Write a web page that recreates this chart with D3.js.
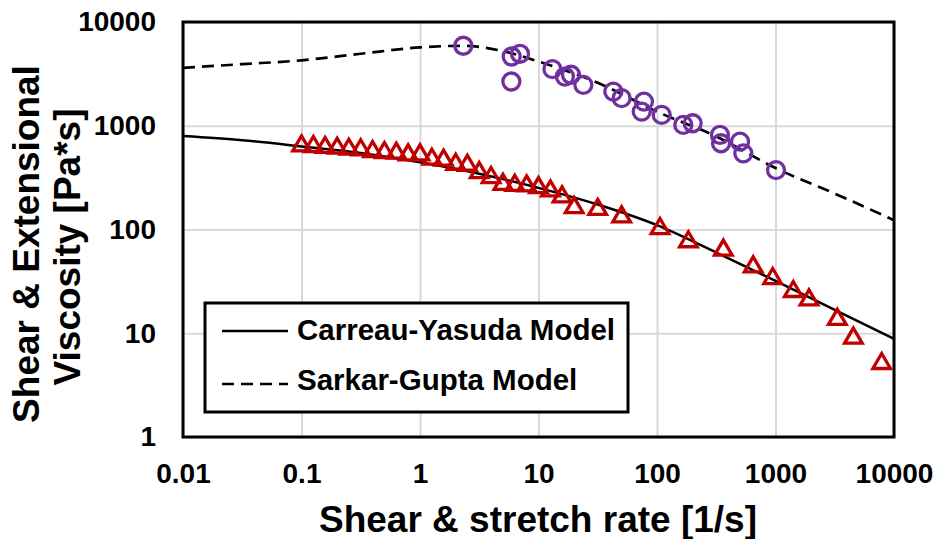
<!DOCTYPE html>
<html lang="en">
<head>
<meta charset="UTF-8">
<script src="https://cdn.jsdelivr.net/npm/d3@7"></script>
<style>
  body { margin: 0; background: #fff; }
  text { font-family: "Liberation Sans", Arial, sans-serif; font-weight: bold; fill: #000; }
</style>
</head>
<body>
<div class="canva"></div>
<script>
// tick values and labels
const xTicks = [0.01, 0.1, 1, 10, 100, 1000, 10000];
const xTickLabels = ["0.01", "0.1", "1", "10", "100", "1000", "10000"];
const yTicks = [1, 10, 100, 1000, 10000];
const yTickLabels = ["1", "10", "100", "1000", "10000"];

// measured shear viscosity (triangles)
const shearRate = [0.1, 0.126, 0.158, 0.2, 0.251, 0.316, 0.398, 0.501, 0.631, 0.794,
  1, 1.26, 1.58, 2, 2.51, 3.16, 3.98, 5.01, 6.31, 7.94,
  10, 12.6, 15.8, 20, 31.6, 50.3, 106, 184, 363, 648,
  947, 1413, 1918, 3324, 4540, 7870];
const shearVisc = [676, 667, 653, 642, 628, 620, 597, 584, 575, 554,
  554, 503, 492, 450, 440, 374, 335, 288, 282, 278,
  268, 249, 218, 172, 165, 140, 108, 80.5, 67, 46.2,
  35.6, 26.7, 22.2, 14.4, 9.5, 5.4];

// measured extensional viscosity (circles)
const stretchRate = [2.32, 5.94, 6.98, 5.9, 13.1, 16.7, 18.8, 23.9, 42.8, 50.3,
  77.6, 74.3, 109.6, 166.7, 200, 340, 347, 502, 535, 1010];
const extVisc = [5900, 4650, 4940, 2670, 3515, 2980, 3100, 2480, 2136, 1845,
  1710, 1370, 1271, 1018, 1057, 815, 678, 702, 542, 374];

// model curves
const cyRate = [0.01, 0.0316, 0.1, 0.316, 1, 3.16, 10, 31.6, 100, 316, 1000, 3162, 10000];
const cyVisc = [795, 725, 632, 545, 445, 345, 252, 174, 110, 60, 32, 16.8, 8.85];
const sgRate = [0.01, 0.0316, 0.1, 0.316, 1, 2.3, 4.73, 10, 31.6, 100, 316, 1000, 3162, 10000];
const sgVisc = [3615, 3925, 4270, 4940, 5690, 5900, 5320, 4160, 2600, 1368, 789, 391, 222, 123];

const width = 937, height = 539;
const svg = d3.select(".canva").append("svg")
  .attr("width", width)
  .attr("height", height);

const plot = { left: 183, right: 894, top: 22, bottom: 437 };

const x = d3.scaleLog().domain([0.01, 10000]).range([plot.left, plot.right]);
const y = d3.scaleLog().domain([1, 10000]).range([plot.bottom, plot.top]);

// gridlines
svg.append("g")
  .attr("transform", `translate(0,${plot.bottom})`)
  .call(d3.axisBottom(x).tickValues(xTicks).tickSize(-(plot.bottom - plot.top)).tickFormat(""))
  .call(g => g.select(".domain").remove())
  .call(g => g.selectAll("line").attr("stroke", "#d9d9d9").attr("stroke-width", 2));

svg.append("g")
  .attr("transform", `translate(${plot.left},0)`)
  .call(d3.axisLeft(y).tickValues(yTicks).tickSize(-(plot.right - plot.left)).tickFormat(""))
  .call(g => g.select(".domain").remove())
  .call(g => g.selectAll("line").attr("stroke", "#d9d9d9").attr("stroke-width", 2));

// tick labels
svg.append("g")
  .attr("transform", `translate(0,${plot.bottom})`)
  .call(d3.axisBottom(x).tickValues(xTicks).tickSize(0).tickPadding(26)
    .tickFormat((d, i) => xTickLabels[i]))
  .call(g => g.select(".domain").remove())
  .call(g => g.selectAll("text").attr("font-size", 28).attr("font-family", null));

svg.append("g")
  .attr("transform", `translate(${plot.left},0)`)
  .call(d3.axisLeft(y).tickValues(yTicks).tickSize(0).tickPadding(27)
    .tickFormat((d, i) => yTickLabels[i]))
  .call(g => g.select(".domain").remove())
  .call(g => g.selectAll("text").attr("font-size", 28).attr("font-family", null));

// plot frame
svg.append("rect")
  .attr("x", plot.left)
  .attr("y", plot.top)
  .attr("width", plot.right - plot.left)
  .attr("height", plot.bottom - plot.top)
  .attr("fill", "none")
  .attr("stroke", "#000")
  .attr("stroke-width", 3);

// model lines
const line = d3.line()
  .x(d => x(d[0]))
  .y(d => y(d[1]))
  .curve(d3.curveMonotoneX);

svg.append("path")
  .attr("d", line(d3.zip(cyRate, cyVisc)))
  .attr("fill", "none")
  .attr("stroke", "#000")
  .attr("stroke-width", 2.5);

svg.append("path")
  .attr("d", line(d3.zip(sgRate, sgVisc)))
  .attr("fill", "none")
  .attr("stroke", "#000")
  .attr("stroke-width", 2.7)
  .attr("stroke-dasharray", "12,7");

// triangles
svg.append("g").selectAll("path")
  .data(d3.zip(shearRate, shearVisc))
  .join("path")
  .attr("transform", d => `translate(${x(d[0])},${y(d[1])})`)
  .attr("d", "M0,-7.5L8.8,7.5L-8.8,7.5Z")
  .attr("fill", "none")
  .attr("stroke", "#c00000")
  .attr("stroke-width", 3.3);

// circles
svg.append("g").selectAll("circle")
  .data(d3.zip(stretchRate, extVisc))
  .join("circle")
  .attr("cx", d => x(d[0]))
  .attr("cy", d => y(d[1]))
  .attr("r", 8.5)
  .attr("fill", "none")
  .attr("stroke", "#7030a0")
  .attr("stroke-width", 3.3);

// legend
const legend = svg.append("g");
legend.append("rect")
  .attr("x", 205).attr("y", 303)
  .attr("width", 423).attr("height", 109)
  .attr("fill", "#fff")
  .attr("stroke", "#000")
  .attr("stroke-width", 3);

const legendItems = [
  { label: "Carreau-Yasuda Model", dash: null, ly: 331, ty: 340 },
  { label: "Sarkar-Gupta Model", dash: "12,7", ly: 384, ty: 390 }
];
legendItems.forEach(it => {
  legend.append("line")
    .attr("x1", 222).attr("x2", 288)
    .attr("y1", it.ly).attr("y2", it.ly)
    .attr("stroke", "#000")
    .attr("stroke-width", 2.5)
    .attr("stroke-dasharray", it.dash);
  legend.append("text")
    .attr("x", 297).attr("y", it.ty)
    .attr("font-size", 29.5)
    .text(it.label);
});

// axis titles
svg.append("text")
  .attr("x", (plot.left + plot.right) / 2 - 0.5)
  .attr("y", 532)
  .attr("text-anchor", "middle")
  .attr("font-size", 37)
  .text("Shear & stretch rate [1/s]");

svg.append("text")
  .attr("transform", "translate(39,244) rotate(-90)")
  .attr("text-anchor", "middle")
  .attr("font-size", 37)
  .text("Shear & Extensional");

svg.append("text")
  .attr("transform", "translate(80,247) rotate(-90)")
  .attr("text-anchor", "middle")
  .attr("font-size", 37)
  .text("Viscosity [Pa*s]");
</script>
</body>
</html>
